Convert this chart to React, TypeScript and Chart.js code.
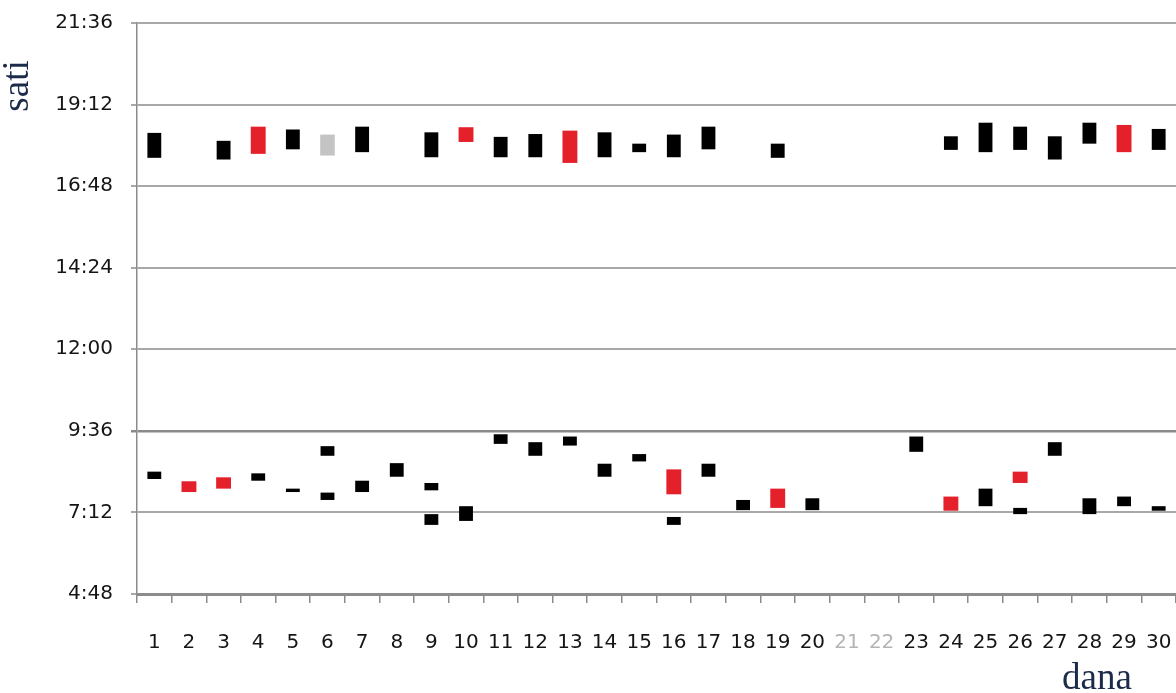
import React, { useEffect, useRef } from "react";
import { Chart, registerables } from "chart.js";

Chart.register(...registerables);

type Range = [number, number] | null;

// Days of the month (x categories)
const days: string[] = Array.from({ length: 30 }, (_, i) => String(i + 1));
const mutedDays: string[] = ["21", "22"];

// Y axis range in minutes since midnight (4:48 … 21:36, step 2:24)
const yMin = 288;
const yMax = 1296;
const yStep = 144;

// Evening intervals (minutes since midnight), [start, end]
const eveningBlack: Range[] = [
  [1058, 1102], null, [1055, 1088], null, [1073, 1108], null, [1068, 1113], null, [1059, 1103], null,
  [1059, 1095], [1059, 1100], null, [1059, 1103], [1068, 1083], [1059, 1099], [1073, 1113], null, [1058, 1083], null,
  null, null, null, [1072, 1096], [1068, 1120], [1072, 1113], [1055, 1096], [1083, 1120], null, [1072, 1109],
];
const eveningRed: Range[] = [
  null, null, null, [1065, 1113], null, null, null, null, null, [1086, 1112],
  null, null, [1049, 1106], null, null, null, null, null, null, null,
  null, null, null, null, null, null, null, null, [1068, 1116], null,
];
const eveningGray: Range[] = [
  null, null, null, null, null, [1062, 1099], null, null, null, null,
  null, null, null, null, null, null, null, null, null, null,
  null, null, null, null, null, null, null, null, null, null,
];

// Morning intervals
const morningBlack: Range[] = [
  [491, 504], null, null, [488, 501], [468, 474], [532, 549], [468, 488], [495, 519], [471, 484], [417, 443],
  [553, 570], [532, 556], [550, 566], [495, 518], [522, 535], [410, 424], [495, 518], [436, 454], null, [436, 457],
  null, null, [539, 566], null, [443, 474], [429, 440], [532, 556], [429, 457], [443, 460], [435, 443],
];
const morningBlack2: Range[] = [
  null, null, null, null, null, [454, 467], null, null, [410, 429], null,
  null, null, null, null, null, null, null, null, null, null,
  null, null, null, null, null, null, null, null, null, null,
];
const morningRed: Range[] = [
  null, [468, 487], [474, 494], null, null, null, null, null, null, null,
  null, null, null, null, null, [464, 508], null, null, [440, 474], null,
  null, null, null, [435, 460], null, [484, 504], null, null, null, null,
];

const yTitle = "sati";
const xTitle = "dana";

const BLACK = "#000000";
const RED = "#e4202a";
const GRAY = "#c4c4c4";

function fmt(v: number): string {
  const h = Math.floor(v / 60);
  const m = Math.round(v % 60);
  return `${h}:${String(m).padStart(2, "0")}`;
}

const titlePlugin = {
  id: "axisTitles",
  afterDraw(chart: any) {
    const ctx = chart.ctx as CanvasRenderingContext2D;
    const area = chart.chartArea;
    ctx.save();
    ctx.fillStyle = "#1c2b4a";
    ctx.font = "37px 'Liberation Serif', serif";
    ctx.translate(18, 86);
    ctx.rotate(-Math.PI / 2);
    ctx.textAlign = "center";
    ctx.textBaseline = "middle";
    ctx.fillText(yTitle, 0, 0);
    ctx.restore();
    ctx.save();
    ctx.fillStyle = "#1c2b4a";
    ctx.font = "37px 'Liberation Serif', serif";
    ctx.textAlign = "center";
    ctx.textBaseline = "alphabetic";
    ctx.fillText(xTitle, area.right - 79, 689);
    ctx.restore();
  },
};

export default function App() {
  const ref = useRef<HTMLCanvasElement | null>(null);

  useEffect(() => {
    document.body.style.margin = "0";
    if (!ref.current) return;
    const mk = (data: Range[], color: string, pct: number) => ({
      data: data as any,
      backgroundColor: color,
      borderWidth: 0,
      grouped: false,
      barPercentage: pct,
      categoryPercentage: 1,
    });
    const chart = new Chart(ref.current, {
      type: "bar",
      data: {
        labels: days,
        datasets: [
          mk(eveningBlack, BLACK, 0.4),
          mk(eveningRed, RED, 0.43),
          mk(eveningGray, GRAY, 0.42),
          mk(morningBlack, BLACK, 0.4),
          mk(morningBlack2, BLACK, 0.4),
          mk(morningRed, RED, 0.43),
        ],
      },
      options: {
        responsive: false,
        animation: false,
        events: [],
        layout: { padding: { left: 0, right: 0, top: 23, bottom: 0 } },
        plugins: {
          legend: { display: false },
          tooltip: { enabled: false },
        },
        scales: {
          x: {
            offset: true,
            grid: {
              display: true,
              offset: true,
              drawOnChartArea: false,
              drawTicks: true,
              tickLength: 9,
              color: "#8c8c8c",
              lineWidth: 1.5,
            },
            border: { display: true, color: "#8c8c8c", width: 3 },
            ticks: {
              padding: 28,
              autoSkip: false,
              maxRotation: 0,
              font: { family: "'DejaVu Sans', sans-serif", size: 20 },
              color: (c: any) => (mutedDays.includes(days[c.index]) ? "#b4b4b4" : "#151515"),
            },
            afterFit: (scale: any) => {
              scale.height = 99;
              scale.paddingLeft = 0;
              scale.paddingRight = 0;
            },
          },
          y: {
            min: yMin,
            max: yMax,
            grid: {
              color: (c: any) => (c.tick && c.tick.value === 576 ? "#8a8a8a" : "#a8a8a8"),
              lineWidth: (c: any) => (c.tick && c.tick.value === 576 ? 2.5 : 2),
              tickLength: 6,
            },
            border: { display: true, color: "#8c8c8c", width: 1.5 },
            ticks: {
              stepSize: yStep,
              padding: 18,
              font: { family: "'DejaVu Sans', sans-serif", size: 20 },
              color: "#151515",
              callback: (v: any) => fmt(Number(v)),
            },
            afterFit: (scale: any) => {
              scale.width = 137;
              scale.paddingTop = 0;
              scale.paddingBottom = 0;
            },
          },
        },
      },
      plugins: [titlePlugin],
    });
    return () => chart.destroy();
  }, []);

  return (
    <div style={{ position: "absolute", left: 0, top: 0, width: 1176, height: 693, background: "#fff" }}>
      <canvas ref={ref} width={1176} height={693} style={{ width: 1176, height: 693 }} />
    </div>
  );
}
